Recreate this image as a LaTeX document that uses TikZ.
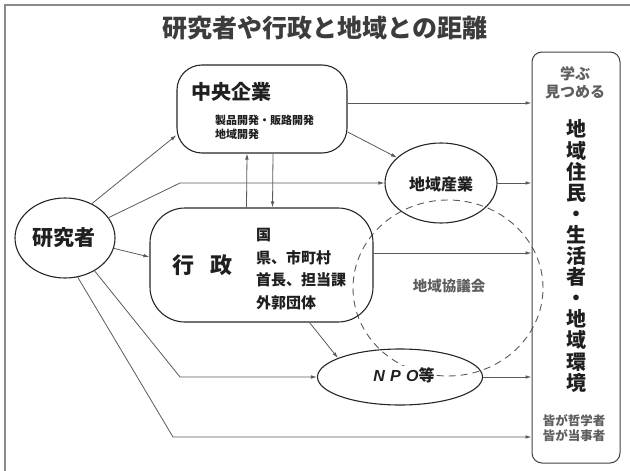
\documentclass[tikz,border=0pt]{standalone}
\usepackage{fontspec}
\setmainfont{Noto Sans CJK JP}
\newfontfamily\latsans{Liberation Sans}
\usetikzlibrary{shapes.geometric,arrows.meta,calc}
\definecolor{linec}{HTML}{5A5A5A}
\definecolor{framec}{HTML}{8A8A8A}
\definecolor{titlec}{HTML}{3C3C3C}
\definecolor{grayt}{HTML}{5E5E5E}
\begin{document}
\begin{tikzpicture}[x=1pt,y=-1pt,
  line/.style={draw=linec, line width=0.8pt},
  arr/.style={line, -{Latex[length=6pt,width=3.6pt]}},
  oval/.style={ellipse, draw=black!85, line width=1.1pt, inner sep=0pt},
  rbox/.style={rectangle, draw=black!85, line width=1.1pt, inner sep=0pt},
  lbl/.style={inner sep=0pt, text=black!88},
]
\useasboundingbox (0,0) rectangle (630,471);
% frame
\draw[framec, line width=1.6pt] (630,5) -- (5,5) -- (5,471);
% title
\node[lbl, text=titlec, font=\bfseries\fontsize{25}{25}\selectfont] (title) at (325,28) {研究者や行政と地域との距離};

% dashed council circle
\node[ellipse, draw=linec, dashed, dash pattern=on 7pt off 5pt, line width=0.9pt, minimum width=190pt, minimum height=176pt, inner sep=0pt] (kyogi) at (448,288) {};
\node[lbl, text=grayt, font=\bfseries\fontsize{14.5}{14.5}\selectfont] (kyogit) at (449,286) {地域協議会};

% main nodes
\node[oval, minimum width=100pt, minimum height=80pt] (res) at (65,238) {};
\node[lbl, font=\bfseries\fontsize{21}{21}\selectfont] (rest) at (64,238) {研究者};

\node[rbox, rounded corners=25pt, minimum width=170pt, minimum height=88pt] (chuo) at (262,109) {};
\node[lbl, font=\bfseries\fontsize{20}{20}\selectfont, anchor=west] (chuot) at (191,92) {中央企業};
\node[lbl, font=\bfseries\fontsize{11}{14}\selectfont, anchor=west, align=left] (chuos) at (215,127) {製品開発・販路開発\\地域開発};

\node[rbox, rounded corners=35pt, minimum width=223pt, minimum height=114pt] (gyosei) at (261.5,265) {};
\node[lbl, font=\bfseries\fontsize{22}{22}\selectfont, anchor=west] (gyoseit) at (172,265) {行\hspace{0.75em}政};
\node[lbl, font=\bfseries\fontsize{15}{22.5}\selectfont, anchor=west, align=left] (gyoseis) at (256,269) {国\\県、市町村\\首長、担当課\\外郭団体};

\node[oval, minimum width=112pt, minimum height=80pt] (sangyo) at (441,183) {};
\node[lbl, font=\bfseries\fontsize{16}{16}\selectfont] (sangyot) at (441,184) {地域産業};

\node[oval, minimum width=165pt, minimum height=56pt] (npo) at (400,377) {};
\node[lbl, fill=white, inner sep=1pt, font=\bfseries\fontsize{16}{16}\selectfont] (npot) at (404,375) {{\latsans\bfseries\itshape N\,\,P\,\,O}等};

% right column
\node[rbox, draw=black!75, line width=1pt, rounded corners=10pt, minimum width=88pt, minimum height=411pt] (right) at (576,257.5) {};
\node[lbl, text=grayt, font=\bfseries\fontsize{15}{18}\selectfont, align=center] (manabu) at (575,83) {学ぶ\\見つめる};
\node[lbl, font=\bfseries\fontsize{20}{21.1}\selectfont, align=center] (vtext) at (576,256) {地\\域\\住\\民\\・\\生\\活\\者\\・\\地\\域\\環\\境};
\node[lbl, text=grayt, font=\bfseries\fontsize{12.5}{15}\selectfont, align=center] (mina) at (574,428) {皆が哲学者\\皆が当事者};

% connectors
\coordinate (c2) at (180,183);
\coordinate (c4) at (180,377);
\coordinate (c5) at (173,437);

\draw[arr] (res.52) -- (chuo.197);
\draw[arr] (res.25) -- (c2) -- (sangyo.west);
\draw[arr] (res.-12) -- ([yshift=8pt]gyosei.west);
\draw[arr] (res.-48) -- (c4) -- (npo.west);
\draw[arr] (res.-72) -- (c5) -- (c5 -| right.west);

\draw[arr] ([yshift=6pt]chuo.east) -- ([yshift=6pt]chuo.east -| right.west);
\draw[arr] (chuo.345) -- (sangyo.150);
\draw[arr] ([xshift=-15pt]gyosei.north) -- ([xshift=-15pt]chuo.south);
\draw[arr] ([xshift=11pt]chuo.south) -- ([xshift=11pt]gyosei.north);

\draw[arr] (sangyo.east) -- (sangyo.east -| right.west);
\draw[arr] ([yshift=12pt]gyosei.east) -- ([yshift=12pt]gyosei.east -| right.west);
\draw[arr] ([xshift=48pt]gyosei.south) -- (npo.163);
\draw[arr] (npo.east) -- (npo.east -| right.west);
\end{tikzpicture}
\end{document}
